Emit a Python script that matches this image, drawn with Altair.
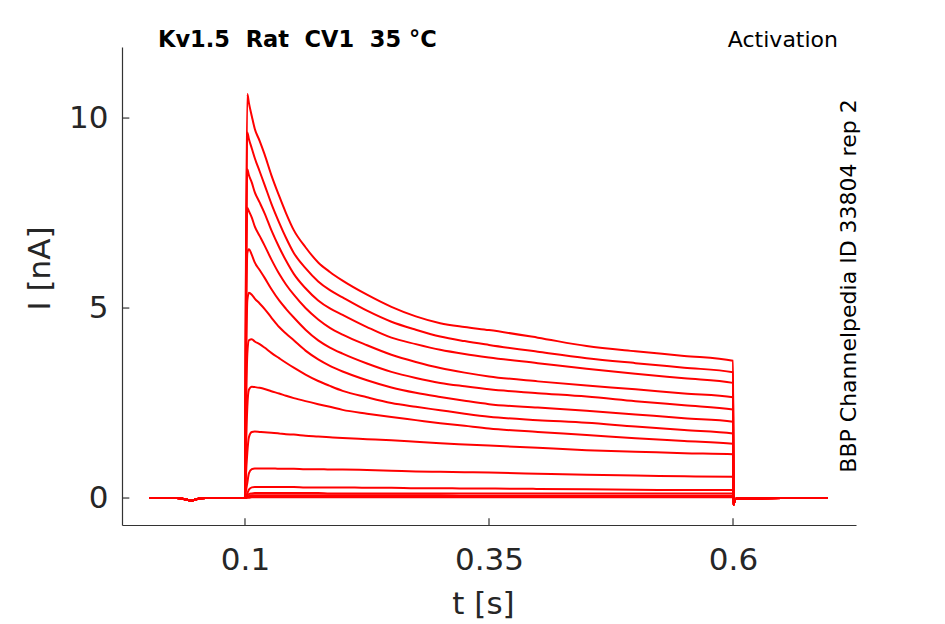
import altair as alt
import pandas as pd

# ---- data ----
T_PRE = [0.002, 0.030, 0.040, 0.045, 0.050, 0.060, 0.100]
I_PRE = [0.0, 0.0, -0.04, -0.07, -0.03, 0.0, 0.0]

T_PULSE = [0.1008, 0.1024, 0.104, 0.107, 0.11, 0.115, 0.12, 0.127, 0.135, 0.142,
           0.15, 0.162, 0.175, 0.187, 0.2, 0.225, 0.25, 0.275, 0.3, 0.325,
           0.35, 0.4, 0.45, 0.5, 0.55, 0.6]

I1 = [5.3, 10.63, 10.4, 10.05, 9.72, 9.4, 9.05, 8.5, 7.95, 7.5, 7.05, 6.6, 6.2, 5.95, 5.72, 5.35, 5.03, 4.78, 4.6, 4.5, 4.42, 4.22, 4.0, 3.86, 3.74, 3.61]
I2 = [4.8, 9.62, 9.45, 9.2, 8.95, 8.6, 8.25, 7.75, 7.25, 6.85, 6.45, 6.05, 5.7, 5.47, 5.28, 4.93, 4.64, 4.43, 4.25, 4.13, 4.03, 3.85, 3.68, 3.55, 3.43, 3.31]
I3 = [4.3, 8.65, 8.5, 8.3, 8.05, 7.78, 7.5, 7.05, 6.6, 6.25, 5.9, 5.52, 5.2, 4.99, 4.82, 4.5, 4.22, 4.05, 3.9, 3.79, 3.70, 3.55, 3.40, 3.27, 3.15, 3.03]
I4 = [3.8, 7.64, 7.55, 7.38, 7.15, 6.9, 6.65, 6.28, 5.9, 5.62, 5.35, 5.0, 4.7, 4.48, 4.3, 4.02, 3.77, 3.58, 3.42, 3.30, 3.20, 3.07, 2.96, 2.86, 2.75, 2.65]
I5 = [3.2, 6.45, 6.55, 6.4, 6.2, 6.0, 5.8, 5.5, 5.2, 4.98, 4.75, 4.43, 4.15, 3.96, 3.8, 3.54, 3.32, 3.16, 3.03, 2.94, 2.86, 2.76, 2.67, 2.55, 2.44, 2.33]
I6 = [2.4, 5.2, 5.4, 5.35, 5.25, 5.12, 4.98, 4.75, 4.5, 4.33, 4.15, 3.88, 3.65, 3.48, 3.33, 3.1, 2.91, 2.77, 2.66, 2.56, 2.47, 2.38, 2.30, 2.20, 2.10, 2.01]
I7 = [1.7, 3.8, 4.15, 4.18, 4.12, 4.05, 3.96, 3.82, 3.68, 3.56, 3.43, 3.25, 3.08, 2.95, 2.82, 2.65, 2.5, 2.4, 2.31, 2.22, 2.14, 2.05, 1.98, 1.88, 1.79, 1.70]
I8 = [1.0, 2.4, 2.85, 2.93, 2.92, 2.9, 2.87, 2.81, 2.75, 2.69, 2.63, 2.55, 2.47, 2.4, 2.32, 2.22, 2.13, 2.05, 1.97, 1.9, 1.83, 1.74, 1.66, 1.57, 1.50, 1.43]
I9 = [0.5, 1.2, 1.6, 1.74, 1.75, 1.74, 1.73, 1.72, 1.7, 1.68, 1.67, 1.64, 1.62, 1.6, 1.58, 1.55, 1.52, 1.48, 1.44, 1.41, 1.38, 1.32, 1.26, 1.22, 1.18, 1.15]
I10 = [0.15, 0.4, 0.65, 0.76, 0.78, 0.78, 0.78, 0.78, 0.77, 0.77, 0.77, 0.76, 0.76, 0.75, 0.75, 0.74, 0.72, 0.70, 0.69, 0.68, 0.67, 0.64, 0.61, 0.59, 0.57, 0.56]
I11 = [0.05, 0.12, 0.22, 0.28, 0.29, 0.29, 0.29, 0.29, 0.29, 0.29, 0.29, 0.28, 0.28, 0.28, 0.28, 0.27, 0.27, 0.26, 0.26, 0.25, 0.25, 0.24, 0.23, 0.22, 0.21, 0.21]
I12 = [0.02, 0.06, 0.10, 0.12, 0.13, 0.13, 0.13, 0.13, 0.13, 0.13, 0.13, 0.13, 0.13, 0.12, 0.12, 0.12, 0.12, 0.12, 0.12, 0.12, 0.12, 0.12, 0.12, 0.12, 0.12, 0.12]
I13 = [0.0, 0.03, 0.05, 0.07, 0.07, 0.07, 0.07, 0.07, 0.07, 0.07, 0.07, 0.07, 0.07, 0.07, 0.07, 0.07, 0.07, 0.07, 0.07, 0.06, 0.06, 0.06, 0.06, 0.06, 0.06, 0.06]
I14 = [0.0, 0.02, 0.03, 0.04, 0.04, 0.04, 0.04, 0.04, 0.04, 0.04, 0.04, 0.04, 0.04, 0.04, 0.04, 0.04, 0.04, 0.04, 0.04, 0.04, 0.04, 0.04, 0.04, 0.04, 0.04, 0.04]
I15 = [0.0, 0.01, 0.01, 0.02, 0.02, 0.02, 0.02, 0.02, 0.02, 0.02, 0.02, 0.02, 0.02, 0.02, 0.02, 0.02, 0.02, 0.02, 0.02, 0.02, 0.02, 0.02, 0.02, 0.02, 0.02, 0.02]

T_POST = [0.6006, 0.6015, 0.603, 0.65, 0.697]
I_POST = [-0.18, -0.08, -0.02, 0.0, 0.0]

TRACES = [I1, I2, I3, I4, I5, I6, I7, I8, I9, I10, I11, I12, I13, I14, I15]

X_TICKS = [0.1, 0.35, 0.6]
Y_TICKS = [0, 5, 10]
X_DOMAIN = [-0.026, 0.726]
Y_DOMAIN = [-0.71, 11.87]

TITLE = "Kv1.5  Rat  CV1  35 °C"
RIGHT_TITLE = "Activation"
SIDE_TEXT = "BBP Channelpedia ID 33804 rep 2"

# ---- build table ----
rows = []
for k, tr in enumerate(TRACES):
    ts = T_PRE + T_PULSE + T_POST
    vs = I_PRE + tr + I_POST
    for j, (t, v) in enumerate(zip(ts, vs)):
        rows.append({"trace": k, "t": t, "I": v, "o": j})
df = pd.DataFrame(rows)

FONT = "DejaVu Sans"
AX_COLOR = "#333333"
TXT_COLOR = "#262626"

xs = alt.Scale(domain=X_DOMAIN, nice=False, zero=False)
ys = alt.Scale(domain=Y_DOMAIN, nice=False, zero=False)

lines = alt.Chart(df).mark_line(color="#ff0000", strokeWidth=2, clip=True,
                                interpolate="monotone").encode(
    x=alt.X("t:Q", scale=xs,
            axis=alt.Axis(values=X_TICKS, format="~g", title="t [s]", grid=False, ticks=False,
                          labelFontSize=31, labelColor=TXT_COLOR, labelFont=FONT, labelPadding=20,
                          labelFlush=False,
                          titleFontSize=31, titleFont=FONT, titleColor=TXT_COLOR, titleFontWeight="normal",
                          titleX=361, titleY=79, titleBaseline="middle",
                          domainColor=AX_COLOR, domainWidth=1.2)),
    y=alt.Y("I:Q", scale=ys,
            axis=alt.Axis(values=Y_TICKS, format="d", title="I [nA]", grid=False, ticks=False,
                          labelFontSize=31, labelColor=TXT_COLOR, labelFont=FONT, labelPadding=14,
                          labelFlush=False,
                          titleFontSize=31, titleFont=FONT, titleColor=TXT_COLOR, titleFontWeight="normal",
                          titleX=-82, titleY=221, titleBaseline="middle", titleAlign="center",
                          domainColor=AX_COLOR, domainWidth=1.2)),
    detail="trace:N",
    order="o:Q",
)

# inward tick marks
xt = pd.DataFrame({"t": X_TICKS, "y0": [Y_DOMAIN[0]] * 3, "y1": [Y_DOMAIN[0] + 0.18] * 3})
yt = pd.DataFrame({"I": Y_TICKS, "x0": [X_DOMAIN[0]] * 3, "x1": [X_DOMAIN[0] + 0.0075] * 3})
xticks = alt.Chart(xt).mark_rule(color=AX_COLOR, strokeWidth=1.2).encode(
    x=alt.X("t:Q", scale=xs), y=alt.Y("y0:Q", scale=ys), y2="y1:Q")
yticks = alt.Chart(yt).mark_rule(color=AX_COLOR, strokeWidth=1.2).encode(
    y=alt.Y("I:Q", scale=ys), x=alt.X("x0:Q", scale=xs), x2="x1:Q")

NBSP = "\u00a0"
title = alt.Chart(pd.DataFrame({"s": [TITLE.replace(" ", NBSP)]})).mark_text(
    font=FONT, fontSize=22.5, fontWeight="bold", color="#000000", align="left", baseline="alphabetic"
).encode(x=alt.value(36), y=alt.value(0), text="s:N")
rtitle = alt.Chart(pd.DataFrame({"s": [RIGHT_TITLE]})).mark_text(
    font=FONT, fontSize=22, color="#000000", align="right", baseline="alphabetic"
).encode(x=alt.value(716), y=alt.value(0), text="s:N")
side = alt.Chart(pd.DataFrame({"s": [SIDE_TEXT]})).mark_text(
    font=FONT, fontSize=22, color="#000000", align="center", baseline="middle", angle=270
).encode(x=alt.value(727), y=alt.value(239), text="s:N")

chart = alt.layer(lines, xticks, yticks, title, rtitle, side).properties(
    width=734, height=478,
    autosize=alt.AutoSizeParams(type="none"),
    padding={"left": 114, "top": 39, "right": 81, "bottom": 96},
    background="white",
).configure_view(stroke=None)

chart.save("out.html", embed_options={"renderer": "svg", "actions": False})
